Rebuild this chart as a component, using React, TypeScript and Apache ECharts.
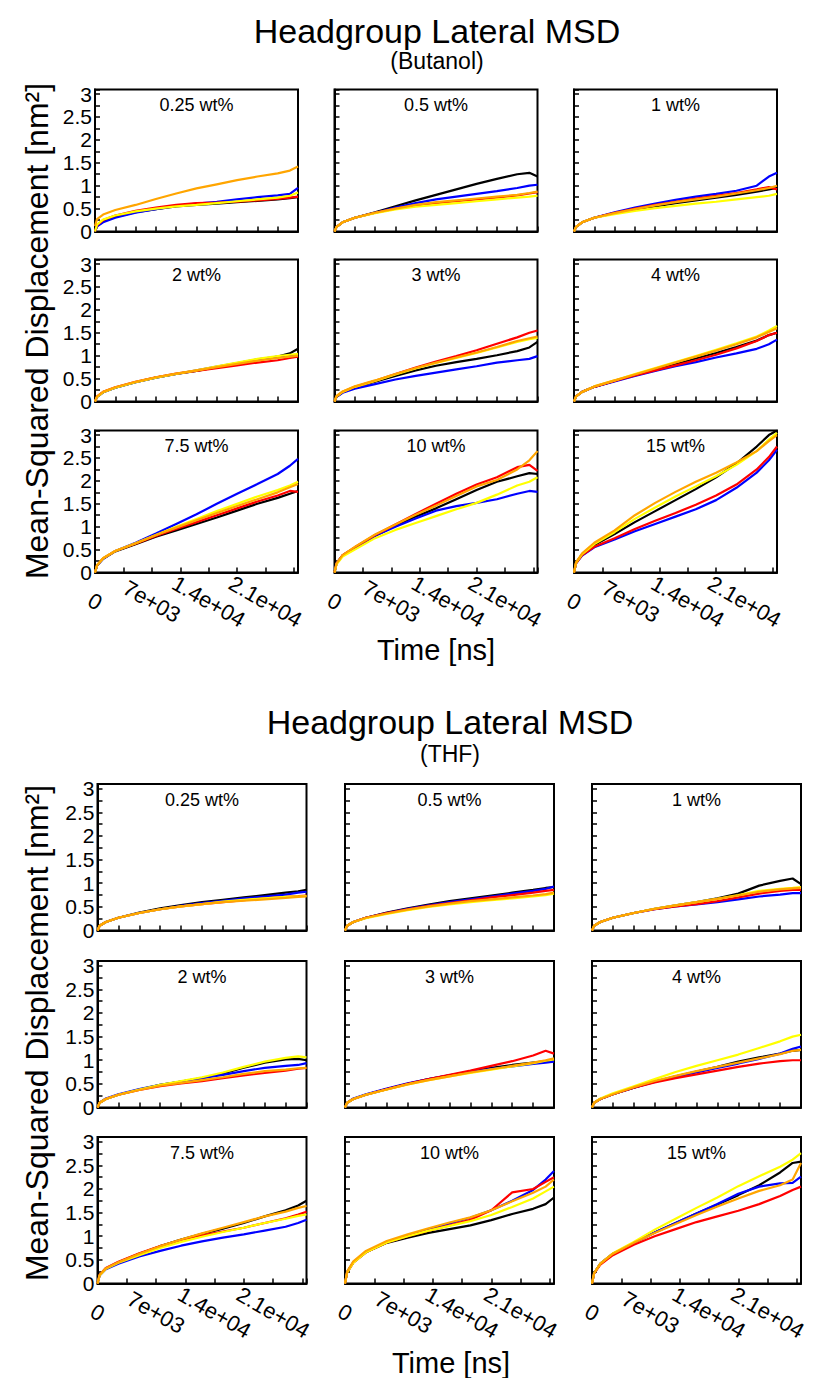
import React, { useEffect, useRef } from "react";
import * as echarts from "echarts";

// ---------- DATA ----------
const TIME = [0, 250, 1000, 2500, 5000, 7500, 10000, 12500, 15000, 17500, 20000, 22500, 24000, 25000];

const SERIES_NAMES = ["black", "blue", "red", "yellow", "orange"];
const SERIES_COLORS = ["#000000", "#0000ff", "#ff0000", "#ffff00", "#ffa500"];

const PANEL_LABELS = ["0.25 wt%", "0.5 wt%", "1 wt%", "2 wt%", "3 wt%", "4 wt%", "7.5 wt%", "10 wt%", "15 wt%"];

const Y_TICK_LABELS = ["0", "0.5", "1", "1.5", "2", "2.5", "3"];
const X_TICK_VALUES = [0, 7000, 14000, 21000];
const X_TICK_LABELS = ["0", "7e+03", "1.4e+04", "2.1e+04"];

// Butanol panels: [black, blue, red, yellow, orange]
const BUT_0_25 = [
  [0, 0.12, 0.22, 0.32, 0.42, 0.49, 0.55, 0.58, 0.61, 0.64, 0.67, 0.70, 0.73, 0.75],
  [0, 0.11, 0.20, 0.30, 0.41, 0.49, 0.56, 0.61, 0.65, 0.70, 0.75, 0.79, 0.82, 0.95],
  [0, 0.14, 0.25, 0.35, 0.45, 0.52, 0.58, 0.62, 0.63, 0.65, 0.68, 0.71, 0.74, 0.76],
  [0, 0.15, 0.26, 0.35, 0.44, 0.50, 0.55, 0.58, 0.62, 0.66, 0.70, 0.74, 0.78, 0.85],
  [0.12, 0.27, 0.37, 0.47, 0.58, 0.71, 0.83, 0.94, 1.03, 1.12, 1.20, 1.27, 1.33, 1.42],
];
const BUT_0_5 = [
  [0, 0.10, 0.20, 0.30, 0.42, 0.55, 0.68, 0.80, 0.92, 1.04, 1.15, 1.25, 1.28, 1.20],
  [0, 0.10, 0.20, 0.30, 0.41, 0.52, 0.62, 0.70, 0.76, 0.82, 0.88, 0.95, 1.00, 1.02],
  [0, 0.10, 0.20, 0.30, 0.41, 0.50, 0.57, 0.62, 0.66, 0.70, 0.74, 0.79, 0.83, 0.86],
  [0, 0.10, 0.20, 0.30, 0.40, 0.48, 0.54, 0.58, 0.62, 0.66, 0.70, 0.74, 0.76, 0.78],
  [0, 0.10, 0.20, 0.30, 0.41, 0.50, 0.58, 0.64, 0.68, 0.72, 0.76, 0.80, 0.84, 0.87],
];
const BUT_1 = [
  [0, 0.10, 0.20, 0.30, 0.40, 0.48, 0.55, 0.62, 0.68, 0.74, 0.80, 0.87, 0.92, 0.95],
  [0, 0.10, 0.20, 0.30, 0.42, 0.52, 0.61, 0.69, 0.76, 0.82, 0.89, 1.00, 1.20, 1.28],
  [0, 0.10, 0.20, 0.30, 0.41, 0.50, 0.58, 0.65, 0.72, 0.78, 0.84, 0.92, 0.97, 0.92],
  [0, 0.10, 0.20, 0.30, 0.38, 0.45, 0.51, 0.56, 0.61, 0.65, 0.70, 0.75, 0.78, 0.82],
  [0, 0.10, 0.20, 0.30, 0.40, 0.49, 0.57, 0.64, 0.70, 0.76, 0.83, 0.90, 0.95, 1.00],
];
const BUT_2 = [
  [0, 0.10, 0.20, 0.30, 0.42, 0.52, 0.60, 0.67, 0.75, 0.82, 0.90, 0.98, 1.05, 1.15],
  [0, 0.10, 0.20, 0.30, 0.42, 0.52, 0.60, 0.68, 0.76, 0.84, 0.92, 0.98, 1.00, 1.02],
  [0, 0.11, 0.21, 0.31, 0.43, 0.53, 0.61, 0.67, 0.73, 0.79, 0.85, 0.90, 0.95, 0.98],
  [0, 0.10, 0.20, 0.30, 0.42, 0.52, 0.60, 0.68, 0.77, 0.85, 0.93, 0.99, 1.02, 1.04],
  [0, 0.11, 0.21, 0.31, 0.43, 0.53, 0.61, 0.68, 0.75, 0.82, 0.89, 0.95, 0.98, 1.00],
];
const BUT_3 = [
  [0, 0.10, 0.20, 0.31, 0.43, 0.56, 0.68, 0.78, 0.86, 0.93, 1.01, 1.10, 1.18, 1.30],
  [0, 0.10, 0.19, 0.28, 0.38, 0.48, 0.56, 0.63, 0.70, 0.77, 0.85, 0.90, 0.93, 0.99],
  [0, 0.11, 0.21, 0.32, 0.45, 0.60, 0.74, 0.87, 0.99, 1.12, 1.26, 1.40, 1.50, 1.55],
  [0, 0.11, 0.21, 0.32, 0.45, 0.59, 0.72, 0.84, 0.95, 1.06, 1.18, 1.30, 1.36, 1.39],
  [0, 0.12, 0.22, 0.33, 0.46, 0.60, 0.73, 0.85, 0.96, 1.07, 1.19, 1.32, 1.38, 1.42],
];
const BUT_4 = [
  [0, 0.11, 0.21, 0.32, 0.45, 0.58, 0.70, 0.82, 0.94, 1.06, 1.19, 1.33, 1.45, 1.50],
  [0, 0.11, 0.21, 0.32, 0.44, 0.56, 0.67, 0.77, 0.86, 0.96, 1.05, 1.15, 1.25, 1.35],
  [0, 0.11, 0.21, 0.32, 0.45, 0.57, 0.68, 0.79, 0.90, 1.02, 1.16, 1.32, 1.45, 1.50],
  [0, 0.11, 0.21, 0.33, 0.46, 0.60, 0.73, 0.86, 0.99, 1.13, 1.27, 1.42, 1.55, 1.65],
  [0, 0.11, 0.21, 0.33, 0.46, 0.59, 0.72, 0.85, 0.98, 1.11, 1.25, 1.40, 1.52, 1.60],
];
const BUT_7_5 = [
  [0, 0.15, 0.30, 0.46, 0.62, 0.78, 0.92, 1.06, 1.20, 1.35, 1.50, 1.63, 1.72, 1.78],
  [0, 0.15, 0.30, 0.47, 0.65, 0.85, 1.06, 1.27, 1.50, 1.72, 1.93, 2.15, 2.33, 2.48],
  [0, 0.16, 0.31, 0.47, 0.63, 0.80, 0.95, 1.10, 1.25, 1.40, 1.55, 1.68, 1.78, 1.76],
  [0, 0.16, 0.31, 0.47, 0.64, 0.82, 1.00, 1.17, 1.34, 1.50, 1.66, 1.80, 1.90, 1.98],
  [0, 0.16, 0.31, 0.47, 0.64, 0.82, 0.98, 1.14, 1.30, 1.45, 1.60, 1.75, 1.86, 1.93],
];
const BUT_10 = [
  [0, 0.20, 0.37, 0.54, 0.80, 1.02, 1.22, 1.40, 1.60, 1.80, 1.98, 2.10, 2.17, 2.15],
  [0, 0.20, 0.37, 0.54, 0.80, 1.00, 1.18, 1.35, 1.45, 1.52, 1.60, 1.72, 1.78, 1.76],
  [0, 0.20, 0.38, 0.55, 0.82, 1.05, 1.28, 1.50, 1.72, 1.92, 2.08, 2.30, 2.35, 2.22],
  [0, 0.18, 0.35, 0.50, 0.75, 0.93, 1.08, 1.23, 1.38, 1.52, 1.70, 1.90, 1.98, 2.08],
  [0, 0.20, 0.38, 0.56, 0.83, 1.05, 1.26, 1.46, 1.67, 1.88, 2.02, 2.25, 2.45, 2.65],
];
const BUT_15 = [
  [0, 0.21, 0.40, 0.60, 0.84, 1.10, 1.34, 1.58, 1.82, 2.08, 2.38, 2.75, 3.00, 3.10],
  [0, 0.20, 0.37, 0.55, 0.72, 0.90, 1.06, 1.22, 1.38, 1.58, 1.85, 2.18, 2.45, 2.68],
  [0, 0.20, 0.38, 0.56, 0.75, 0.95, 1.13, 1.30, 1.48, 1.68, 1.92, 2.25, 2.52, 2.75],
  [0, 0.21, 0.40, 0.62, 0.88, 1.17, 1.42, 1.66, 1.88, 2.10, 2.35, 2.65, 2.90, 3.05],
  [0, 0.22, 0.42, 0.65, 0.92, 1.25, 1.52, 1.76, 1.98, 2.18, 2.40, 2.65, 2.87, 3.00],
];

// THF panels: [black, blue, red, yellow, orange]
const THF_0_25 = [
  [0, 0.10, 0.18, 0.27, 0.38, 0.47, 0.54, 0.60, 0.65, 0.70, 0.75, 0.80, 0.83, 0.86],
  [0, 0.10, 0.18, 0.27, 0.37, 0.45, 0.52, 0.58, 0.63, 0.68, 0.72, 0.76, 0.80, 0.82],
  [0, 0.10, 0.18, 0.27, 0.37, 0.45, 0.51, 0.56, 0.60, 0.64, 0.68, 0.71, 0.73, 0.74],
  [0, 0.10, 0.18, 0.27, 0.37, 0.45, 0.51, 0.56, 0.61, 0.65, 0.68, 0.71, 0.72, 0.73],
  [0, 0.10, 0.18, 0.27, 0.37, 0.45, 0.51, 0.56, 0.60, 0.63, 0.66, 0.69, 0.71, 0.72],
];
const THF_0_5 = [
  [0, 0.10, 0.18, 0.27, 0.38, 0.47, 0.55, 0.62, 0.68, 0.74, 0.80, 0.86, 0.90, 0.92],
  [0, 0.10, 0.18, 0.27, 0.37, 0.46, 0.53, 0.60, 0.66, 0.72, 0.78, 0.84, 0.88, 0.93],
  [0, 0.10, 0.18, 0.27, 0.37, 0.45, 0.52, 0.58, 0.64, 0.70, 0.75, 0.80, 0.84, 0.86],
  [0, 0.10, 0.18, 0.26, 0.35, 0.43, 0.50, 0.55, 0.60, 0.64, 0.68, 0.72, 0.75, 0.78],
  [0, 0.10, 0.18, 0.27, 0.36, 0.44, 0.51, 0.57, 0.62, 0.66, 0.70, 0.74, 0.77, 0.80],
];
const THF_1 = [
  [0, 0.10, 0.18, 0.27, 0.37, 0.46, 0.53, 0.60, 0.68, 0.78, 0.95, 1.05, 1.10, 0.98],
  [0, 0.10, 0.18, 0.27, 0.37, 0.45, 0.51, 0.55, 0.60, 0.66, 0.72, 0.76, 0.79, 0.79],
  [0, 0.10, 0.18, 0.27, 0.37, 0.45, 0.51, 0.56, 0.62, 0.70, 0.78, 0.84, 0.86, 0.86],
  [0, 0.10, 0.18, 0.27, 0.37, 0.46, 0.53, 0.60, 0.67, 0.75, 0.84, 0.88, 0.90, 0.92],
  [0, 0.10, 0.18, 0.27, 0.37, 0.46, 0.53, 0.60, 0.67, 0.74, 0.82, 0.87, 0.89, 0.90],
];
const THF_2 = [
  [0, 0.10, 0.18, 0.27, 0.38, 0.48, 0.55, 0.62, 0.72, 0.84, 0.95, 1.02, 1.03, 1.00],
  [0, 0.10, 0.19, 0.28, 0.39, 0.48, 0.55, 0.62, 0.69, 0.77, 0.84, 0.88, 0.90, 0.94],
  [0, 0.10, 0.18, 0.27, 0.37, 0.45, 0.51, 0.56, 0.62, 0.68, 0.73, 0.78, 0.82, 0.84],
  [0, 0.10, 0.18, 0.27, 0.38, 0.48, 0.56, 0.64, 0.74, 0.86, 0.97, 1.05, 1.08, 1.06],
  [0, 0.10, 0.18, 0.27, 0.37, 0.46, 0.52, 0.58, 0.64, 0.71, 0.77, 0.80, 0.83, 0.84],
];
const THF_3 = [
  [0, 0.10, 0.18, 0.27, 0.39, 0.50, 0.60, 0.68, 0.76, 0.84, 0.90, 0.95, 0.98, 1.00],
  [0, 0.10, 0.19, 0.28, 0.40, 0.51, 0.60, 0.68, 0.75, 0.82, 0.87, 0.92, 0.95, 0.97],
  [0, 0.10, 0.18, 0.27, 0.39, 0.50, 0.60, 0.69, 0.78, 0.88, 0.98, 1.10, 1.20, 1.14],
  [0, 0.10, 0.18, 0.27, 0.38, 0.49, 0.58, 0.66, 0.73, 0.80, 0.87, 0.94, 0.99, 1.02],
  [0, 0.10, 0.18, 0.27, 0.38, 0.49, 0.58, 0.66, 0.74, 0.81, 0.88, 0.95, 1.00, 1.04],
];
const THF_4 = [
  [0, 0.10, 0.18, 0.28, 0.42, 0.55, 0.66, 0.76, 0.86, 0.97, 1.06, 1.14, 1.20, 1.22],
  [0, 0.10, 0.18, 0.28, 0.42, 0.54, 0.65, 0.74, 0.84, 0.93, 1.03, 1.14, 1.24, 1.29],
  [0, 0.10, 0.18, 0.28, 0.42, 0.53, 0.62, 0.70, 0.78, 0.86, 0.93, 0.98, 1.00, 1.00],
  [0, 0.10, 0.19, 0.30, 0.45, 0.60, 0.75, 0.88, 1.00, 1.12, 1.26, 1.40, 1.50, 1.54],
  [0, 0.10, 0.18, 0.28, 0.43, 0.56, 0.67, 0.77, 0.86, 0.95, 1.04, 1.13, 1.20, 1.22],
];
const THF_7_5 = [
  [0, 0.18, 0.32, 0.45, 0.63, 0.79, 0.93, 1.05, 1.16, 1.28, 1.42, 1.55, 1.65, 1.75],
  [0, 0.17, 0.30, 0.42, 0.57, 0.69, 0.80, 0.89, 0.97, 1.04, 1.12, 1.20, 1.28, 1.35],
  [0, 0.18, 0.33, 0.46, 0.64, 0.79, 0.92, 1.02, 1.10, 1.18, 1.28, 1.38, 1.46, 1.52],
  [0, 0.17, 0.31, 0.44, 0.60, 0.75, 0.88, 0.99, 1.09, 1.18, 1.28, 1.37, 1.43, 1.46],
  [0, 0.18, 0.32, 0.45, 0.63, 0.79, 0.93, 1.06, 1.18, 1.30, 1.42, 1.52, 1.60, 1.64],
];
const THF_10 = [
  [0, 0.24, 0.45, 0.66, 0.86, 0.97, 1.07, 1.15, 1.23, 1.34, 1.47, 1.58, 1.68, 1.82],
  [0, 0.24, 0.45, 0.67, 0.88, 1.02, 1.15, 1.27, 1.39, 1.55, 1.75, 1.98, 2.20, 2.38],
  [0, 0.23, 0.44, 0.66, 0.87, 1.00, 1.12, 1.23, 1.35, 1.55, 1.93, 2.00, 2.15, 2.25],
  [0, 0.23, 0.44, 0.66, 0.87, 1.00, 1.12, 1.22, 1.32, 1.45, 1.62, 1.80, 1.95, 2.05],
  [0, 0.25, 0.47, 0.69, 0.90, 1.04, 1.17, 1.29, 1.40, 1.55, 1.74, 1.92, 2.05, 2.20],
];
const THF_15 = [
  [0, 0.22, 0.42, 0.63, 0.86, 1.08, 1.28, 1.48, 1.67, 1.87, 2.08, 2.35, 2.55, 2.58],
  [0, 0.22, 0.42, 0.63, 0.86, 1.08, 1.28, 1.48, 1.68, 1.90, 2.05, 2.12, 2.13, 2.26],
  [0, 0.21, 0.40, 0.60, 0.82, 1.00, 1.15, 1.30, 1.42, 1.54, 1.68, 1.85, 1.98, 2.05],
  [0, 0.22, 0.42, 0.64, 0.88, 1.14, 1.37, 1.60, 1.82, 2.06, 2.27, 2.47, 2.62, 2.76],
  [0, 0.22, 0.42, 0.63, 0.86, 1.07, 1.26, 1.45, 1.63, 1.80, 1.96, 2.08, 2.20, 2.55],
];

const BUTANOL_PANELS = [BUT_0_25, BUT_0_5, BUT_1, BUT_2, BUT_3, BUT_4, BUT_7_5, BUT_10, BUT_15];
const THF_PANELS = [THF_0_25, THF_0_5, THF_1, THF_2, THF_3, THF_4, THF_7_5, THF_10, THF_15];

const TITLE = "Headgroup Lateral MSD";
const SUBTITLES = ["(Butanol)", "(THF)"];
const Y_NAME = "Mean-Squared Displacement [nm\u00B2]";
const X_NAME = "Time [ns]";

// ---------- LAYOUT ----------
const FONT = "'Liberation Sans', Arial, Helvetica, sans-serif";
const FIGS = [
  {
    panels: BUTANOL_PANELS,
    lefts: [95, 334.5, 574],
    tops: [89.5, 259.5, 430.5],
    width: 203,
    height: 142,
    cx: 437,
    titleY: 31,
    subY: 61,
    yLabelX: 37,
    yLabelY: 331,
    xLabelX: 436,
    xLabelY: 650,
  },
  {
    panels: THF_PANELS,
    lefts: [97.5, 345, 592],
    tops: [784, 961, 1137],
    width: 209,
    height: 146.5,
    cx: 450,
    titleY: 722,
    subY: 754,
    yLabelX: 37,
    yLabelY: 1033,
    xLabelX: 451,
    xLabelY: 1363,
  },
];

function buildOption() {
  const grid: any[] = [];
  const xAxis: any[] = [];
  const yAxis: any[] = [];
  const series: any[] = [];
  const graphic: any[] = [];

  const txt = (x: number, y: number, text: string, size: number, rotation = 0) => ({
    type: "text", x, y, rotation, silent: true,
    style: {
      text, font: `${size}px ${FONT}`, fill: "#000",
      align: "center", verticalAlign: "middle", textAlign: "center", textVerticalAlign: "middle",
    },
  });

  FIGS.forEach((fig, f) => {
    graphic.push(txt(fig.cx, fig.titleY, TITLE, 34));
    graphic.push(txt(fig.cx, fig.subY, SUBTITLES[f], 23));
    graphic.push(txt(fig.yLabelX, fig.yLabelY, Y_NAME, 32, Math.PI / 2));
    graphic.push(txt(fig.xLabelX, fig.xLabelY, X_NAME, 29));

    fig.panels.forEach((panel, p) => {
      const r = Math.floor(p / 3);
      const c = p % 3;
      const idx = grid.length;
      const left = fig.lefts[c];
      const top = fig.tops[r];
      const bottomRow = r === 2;
      grid.push({
        left, top, width: fig.width, height: fig.height,
        show: true, borderColor: "#000", borderWidth: 2, backgroundColor: "transparent",
        containLabel: false, outerBoundsMode: "none",
      });
      xAxis.push({
        type: "value", gridIndex: idx, min: 0, max: 25000, interval: bottomRow ? 3500 : 2500,
        axisLine: { show: true, onZero: false, lineStyle: { color: "#000", width: 2 } },
        axisTick: { show: true, inside: true, length: 5, lineStyle: { color: "#000", width: 1.5 } },
        splitLine: { show: false },
        axisLabel: {
          show: bottomRow, rotate: -30, align: "center", verticalAlign: "middle", margin: 29,
          color: "#000", fontSize: 22, fontFamily: FONT, showMinLabel: true, showMaxLabel: true, hideOverlap: false,
          formatter: (v: number) => {
            const k = X_TICK_VALUES.indexOf(Math.round(v));
            return k >= 0 ? X_TICK_LABELS[k] : "";
          },
        },
      });
      yAxis.push({
        type: "value", gridIndex: idx, min: 0, max: 3.1, interval: 0.25,
        axisLine: { show: true, onZero: false, lineStyle: { color: "#000", width: 2 } },
        axisTick: { show: true, inside: true, length: 5, lineStyle: { color: "#000", width: 1.5 } },
        splitLine: { show: false },
        axisLabel: {
          show: c === 0, margin: 3, color: "#000", fontSize: 21, lineHeight: 21, fontFamily: FONT,
          showMinLabel: true, showMaxLabel: true, hideOverlap: false,
          formatter: (v: number) => {
            const k = Math.round(v * 2);
            return Math.abs(v * 2 - k) < 1e-6 && k <= 6 ? Y_TICK_LABELS[k] : "";
          },
        },
      });
      panel.forEach((vals, s) => {
        series.push({
          type: "line", name: SERIES_NAMES[s], xAxisIndex: idx, yAxisIndex: idx,
          data: TIME.map((t, i) => [t, vals[i]]),
          showSymbol: false, symbol: "none", smooth: false, silent: true,
          lineStyle: { color: SERIES_COLORS[s], width: 2.2 },
          itemStyle: { color: SERIES_COLORS[s] },
        });
      });
      graphic.push(txt(left + fig.width / 2, top + 15.5, PANEL_LABELS[p], 18));
    });
  });

  return { animation: false, backgroundColor: "#fff", grid, xAxis, yAxis, series, graphic };
}

export default function App() {
  const ref = useRef<HTMLDivElement>(null);
  useEffect(() => {
    if (!ref.current) return;
    const chart = echarts.init(ref.current, undefined, { renderer: "svg" });
    chart.setOption(buildOption() as any);
    return () => chart.dispose();
  }, []);
  return (
    <div
      ref={ref}
      style={{ position: "absolute", left: 0, top: 0, width: 814, height: 1378, background: "#fff" }}
    />
  );
}
